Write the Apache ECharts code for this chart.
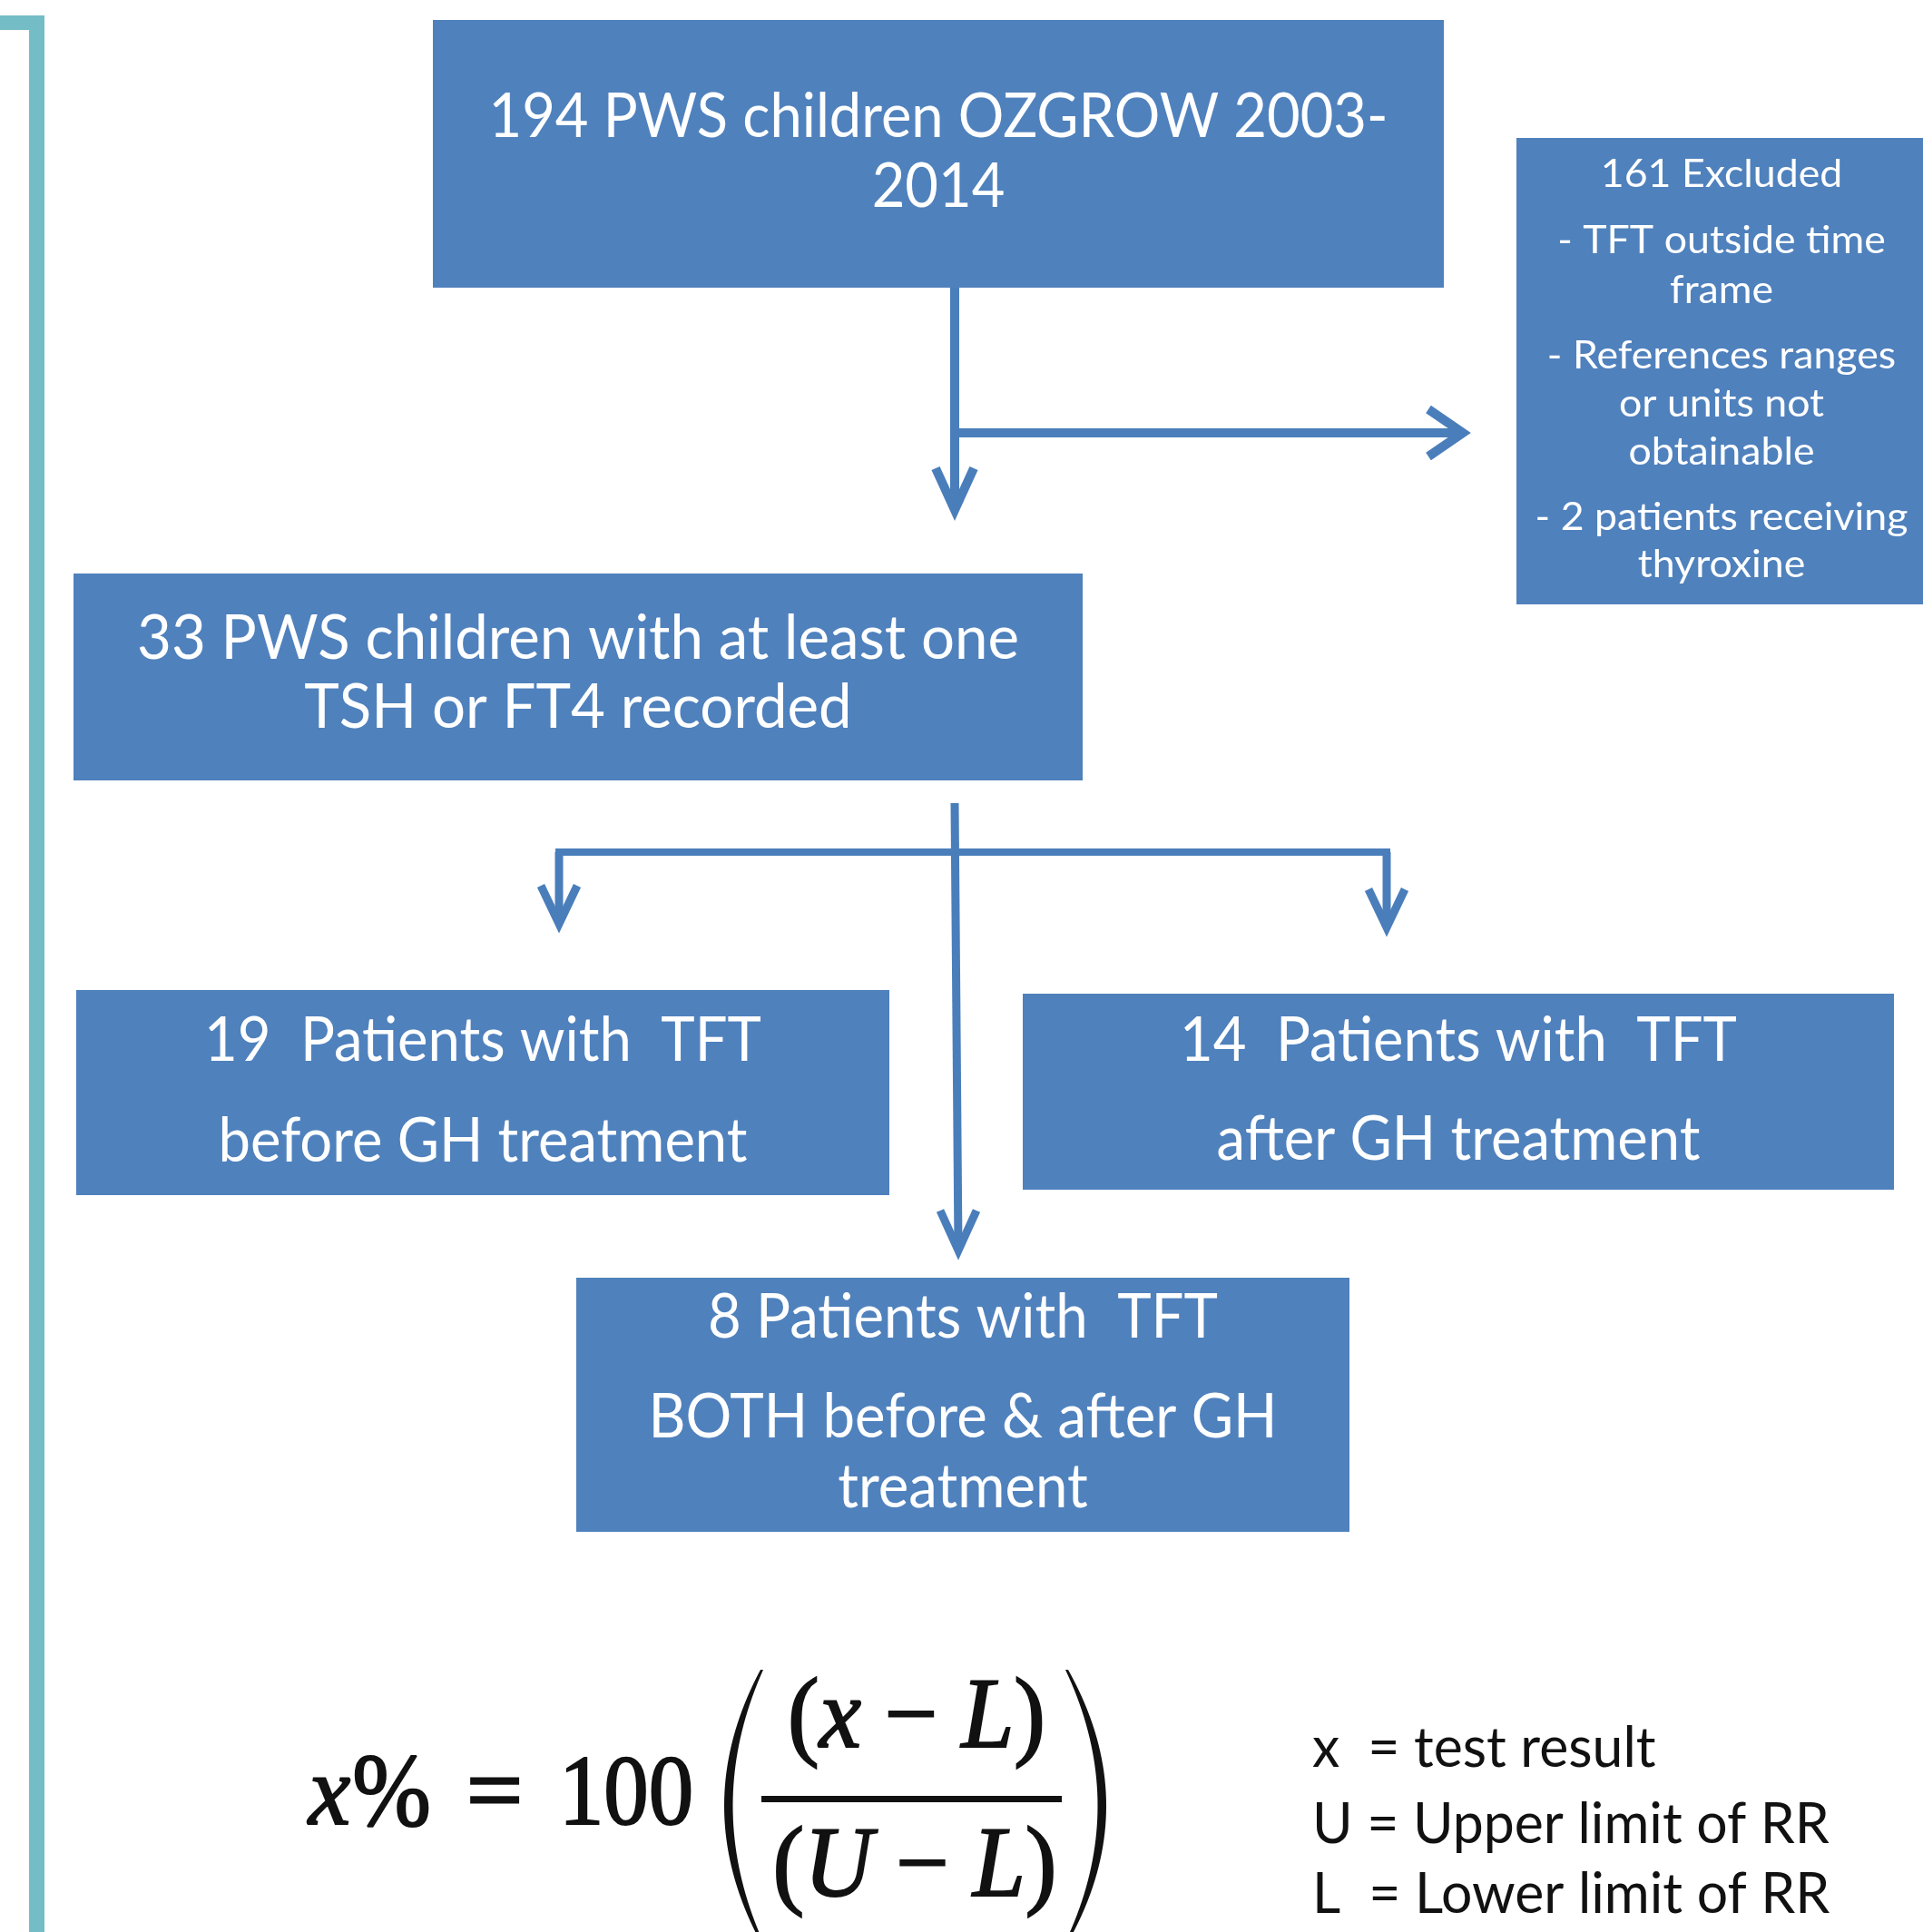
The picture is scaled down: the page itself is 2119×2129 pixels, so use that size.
<!DOCTYPE html>
<html><head><meta charset="utf-8">
<script src="https://cdn.jsdelivr.net/npm/echarts@6/dist/echarts.min.js"></script>
<style>html,body{margin:0;padding:0;background:#fff}#c{width:2119px;height:2129px}</style>
</head><body><div id="c"></div>
<script>
// ---------------- data: text content of the flowchart ----------------
const sourceLines   = ["194 PWS children OZGROW 2003-", "2014"];
const excludedLines = ["161 Excluded", "- TFT outside time", "frame", "- References ranges", "or units not", "obtainable", "- 2 patients receiving", "thyroxine"];
const cohortLines   = ["33 PWS children with at least one", "TSH or FT4 recorded"];
const beforeLines   = ["19  Patients with  TFT", "before GH treatment"];
const afterLines    = ["14  Patients with  TFT", "after GH treatment"];
const bothLines     = ["8 Patients with  TFT", "BOTH before & after GH", "treatment"];
const formulaLeft   = ["x", "%", "=", "100"];
const numeratorParts   = ["(", "x", " \u2212 ", "L", ")"];
const denominatorParts = ["(", "U", " \u2212 ", "L", ")"];
const legendLines   = ["x  = test result", "U = Upper limit of RR", "L  = Lower limit of RR"];

// ---------------- layout & style ----------------
const BOX = '#4F81BD', ARROW = '#4A7EBB', TEAL = '#74BDC6', INK = '#111111';
const SANS = 'Lato', SERIF = '"Liberation Serif"';
const LATO_CAP = 0.7165;

const ctx = document.createElement('canvas').getContext('2d');
function measure(str, font) { ctx.font = font; return ctx.measureText(str).width; }
function fitSize(str, family, targetW, style) { return 100 * targetW / measure(str, (style || '') + ' 100px ' + family); }

const boxes = [
  {lines: sourceLines,   x: 477,  y: 22,   w: 1114, h: 295, ys: [129, 206], fit: 0, fitW: 991, cap: 48},
  {lines: excludedLines, x: 1671, y: 152,  w: 470,  h: 514, cx: 1897, ys: [192, 265, 320, 392, 445, 498, 570, 622], fit: 6, fitW: 411, cap: 31},
  {lines: cohortLines,   x: 81,   y: 632,  w: 1112, h: 228, ys: [704, 780], fit: 0, fitW: 972, cap: 48},
  {lines: beforeLines,   x: 84,   y: 1091, w: 896,  h: 226, ys: [1147, 1258], fit: 0, fitW: 614, cap: 49},
  {lines: afterLines,    x: 1127, y: 1095, w: 960,  h: 216, ys: [1147, 1256], fit: 0, fitW: 614, cap: 49},
  {lines: bothLines,     x: 635,  y: 1408, w: 852,  h: 280, ys: [1452, 1562, 1639], fit: 1, fitW: 693, cap: 49}
];

const shafts = [
  {pts: [[1052, 317], [1052, 560]], w: 10},
  {pts: [[1052, 477], [1610, 477]], w: 10},
  {pts: [[1052, 885], [1056, 1376]], w: 9},
  {pts: [[612, 939], [1532, 939]], w: 8},
  {pts: [[616, 939], [616, 1016]], w: 9},
  {pts: [[1528, 939], [1528, 1020]], w: 9}
];
const heads = [
  {tip: [1052, 562], a: [-21, -46], b: [21, -46], w: 10},
  {tip: [1612, 477], a: [-38, -26], b: [-38, 26], w: 10},
  {tip: [1056, 1378], a: [-20, -44], b: [20, -44], w: 9},
  {tip: [616, 1018], a: [-20, -42], b: [20, -42], w: 9},
  {tip: [1528, 1022], a: [-20, -42], b: [20, -42], w: 9}
];

function rect(x, y, w, h, fill) {
  return {type: 'rect', shape: {x: x, y: y, width: w, height: h}, style: {fill: fill}, silent: true};
}
function text(str, x, y, size, o) {
  o = o || {};
  const st = {
    text: str, x: 0, y: 0, fill: o.fill || INK,
    fontSize: size, fontFamily: o.family || SANS, fontStyle: o.italic ? 'italic' : 'normal',
    fontWeight: 'normal',
    align: o.align || 'center', verticalAlign: 'middle',
    textAlign: o.align || 'center', textVerticalAlign: 'middle'
  };
  if (o.thick) { st.stroke = o.fill || INK; st.lineWidth = o.thick; }
  return {type: 'text', x: x, y: y, scaleX: o.sx || 1, scaleY: o.sy || 1, silent: true, style: st};
}
function poly(points, w, color) {
  return {type: 'polyline', shape: {points: points}, silent: true,
    style: {stroke: color, lineWidth: w, fill: null, lineJoin: 'miter', lineCap: 'butt'}};
}
function quad(p0, c, p2, n) {
  const out = [];
  for (let i = 0; i <= n; i++) {
    const t = i / n, u = 1 - t;
    out.push([u*u*p0[0] + 2*u*t*c[0] + t*t*p2[0], u*u*p0[1] + 2*u*t*c[1] + t*t*p2[1]]);
  }
  return out;
}
function crescent(top, bot, cOuter, cInner) {
  const outer = quad(top, cOuter, bot, 40);
  const d = cInner[0] > cOuter[0] ? 3 : -3;
  const inner = quad([bot[0] + d, bot[1]], cInner, [top[0] + d, top[1]], 40);
  return {type: 'polygon', shape: {points: outer.concat(inner)}, style: {fill: INK}, silent: true};
}

const els = [];
// teal bracket on the left
els.push(rect(32, 17, 17, 2120, TEAL));
els.push(rect(0, 17, 49, 16, TEAL));

// boxes with their text
boxes.forEach(function (b) {
  els.push(rect(b.x, b.y, b.w, b.h, BOX));
  const size = fitSize(b.lines[b.fit], SANS, b.fitW);
  const sy = b.cap / (LATO_CAP * size);
  const cx = b.cx !== undefined ? b.cx : b.x + b.w / 2;
  b.lines.forEach(function (ln, i) {
    els.push(text(ln, cx, b.ys[i], size, {fill: '#ffffff', sy: sy}));
  });
});

// connectors
shafts.forEach(function (s) { els.push(poly(s.pts, s.w, ARROW)); });
heads.forEach(function (h) {
  const t = h.tip;
  els.push(poly([[t[0] + h.a[0], t[1] + h.a[1]], t, [t[0] + h.b[0], t[1] + h.b[1]]], h.w, ARROW));
});

// formula  x% = 100 ( (x - L) / (U - L) )
const F = 104, TH = 2;
function run(parts, italicIdx, cx, y, size) {
  const fonts = parts.map(function (p, i) { return (italicIdx.indexOf(i) >= 0 ? 'italic ' : '') + size + 'px ' + SERIF; });
  const widths = parts.map(function (p, i) { return measure(p, fonts[i]); });
  let x = cx - widths.reduce(function (a, b) { return a + b; }, 0) / 2;
  parts.forEach(function (p, i) {
    els.push(text(p, x, y, size, {family: SERIF, italic: italicIdx.indexOf(i) >= 0, align: 'left', thick: TH, sy: 1.05}));
    x += widths[i];
  });
}
const wx = measure(formulaLeft[0], 'italic ' + F + 'px ' + SERIF);
els.push(text(formulaLeft[0], 340, 1981, F, {family: SERIF, italic: true, align: 'left', thick: TH, sy: 1.05}));
els.push(text(formulaLeft[1], 340 + wx + 2, 1981, F, {family: SERIF, align: 'left', thick: TH, sy: 1.1}));
els.push(text(formulaLeft[2], 545, 1981, F, {family: SERIF, thick: 3, sx: 1.05}));
els.push(text(formulaLeft[3], 690, 1981, F, {family: SERIF, thick: TH, sy: 1.05, sx: 0.95}));
run(numeratorParts, [1, 3], 1010, 1896, F);
run(denominatorParts, [1, 3], 1008, 2060, F);
els.push(rect(839, 1979, 331, 7, INK));
els.push(crescent([838, 1840], [838, 2140], [758, 1990], [774, 1990]));
els.push(crescent([1177, 1840], [1177, 2140], [1261, 1990], [1245, 1990]));

// legend of the formula
const lgSize = fitSize(legendLines[1], SANS, 570);
const lgSy = 44 / (LATO_CAP * lgSize);
const lgYs = [1927, 2011, 2088];
legendLines.forEach(function (ln, i) {
  els.push(text(ln, 1446, lgYs[i], lgSize, {align: 'left', sy: lgSy}));
});

const chart = echarts.init(document.getElementById('c'), null, {renderer: 'canvas'});
chart.setOption({animation: false, backgroundColor: '#ffffff', graphic: {elements: els}});
</script>
</body></html>
